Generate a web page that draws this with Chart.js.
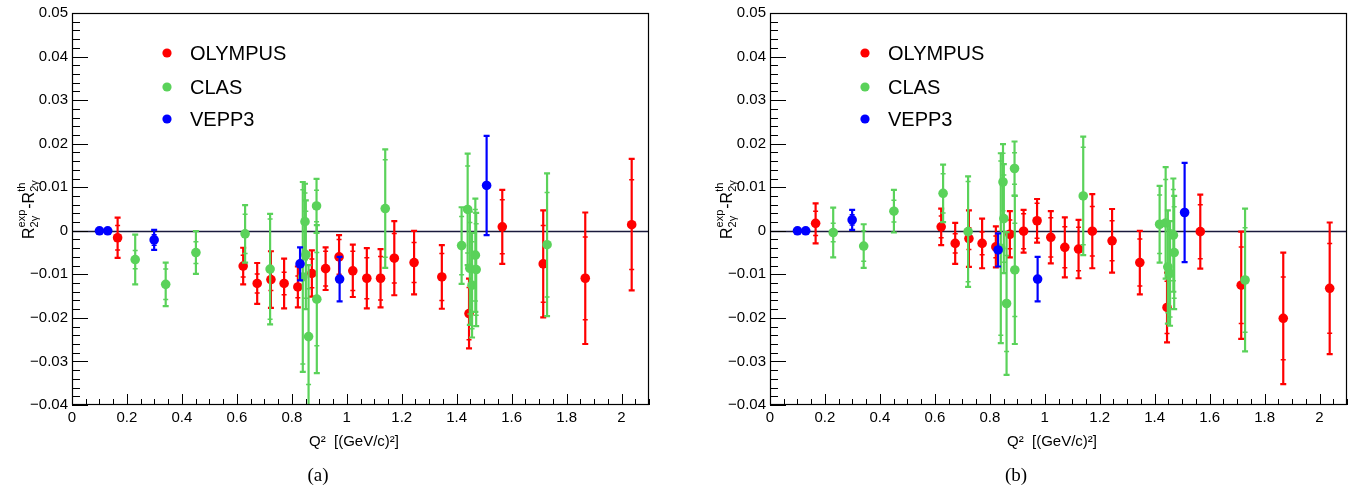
<!DOCTYPE html>
<html><head><meta charset="utf-8">
<script src="https://cdn.jsdelivr.net/npm/chart.js@4.4.1/dist/chart.umd.min.js"></script>
<style>
html,body{margin:0;padding:0;background:#fff;}
#wrap{position:relative;width:1354px;height:487px;overflow:hidden;background:#fff;}
canvas{position:absolute;top:0;}
</style></head><body>
<div id="wrap">
<canvas id="ca" width="656" height="487" style="left:0px;width:656px;height:487px"></canvas>
<canvas id="cb" width="656" height="487" style="left:698px;width:656px;height:487px"></canvas>
</div>
<script>
// ---------------- data ----------------
const seriesNames = ['OLYMPUS', 'CLAS', 'VEPP3'];
const xTickValues = [0, 0.2, 0.4, 0.6, 0.8, 1.0, 1.2, 1.4, 1.6, 1.8, 2.0];
const yTickValues = [0.05, 0.04, 0.03, 0.02, 0.01, 0, -0.01, -0.02, -0.03, -0.04];
const panelCaptions = ['(a)', '(b)'];

const olympusQ2   = [0.166, 0.623, 0.674, 0.724, 0.772, 0.822, 0.873, 0.923, 0.972, 1.022, 1.073, 1.123, 1.173, 1.245, 1.346, 1.445, 1.566, 1.715, 1.868, 2.037];
const olympusA    = [-0.0016, -0.0081, -0.0121, -0.0112, -0.0121, -0.0129, -0.0098, -0.0087, -0.0060, -0.0092, -0.0109, -0.0109, -0.0063, -0.0073, -0.0106, -0.0190, 0.0009, -0.0076, -0.0109, 0.0014];
const olympusB    = [0.0017, 0.0009, -0.0029, -0.0018, -0.0029, -0.0037, -0.0008, -0.0001, 0.0023, -0.0015, -0.0038, -0.0042, -0.0001, -0.0023, -0.0073, -0.0176, -0.0002, -0.0125, -0.0201, -0.0132];
const olympusTot  = [0.0046, 0.0042, 0.0047, 0.0065, 0.0057, 0.0047, 0.0053, 0.0049, 0.0050, 0.0060, 0.0069, 0.0067, 0.0085, 0.0073, 0.0073, 0.0080, 0.0085, 0.0123, 0.0151, 0.0151];
const olympusStat = [0.0028, 0.0025, 0.0022, 0.0025, 0.0026, 0.0025, 0.0033, 0.0040, 0.0040, 0.0045, 0.0047, 0.0050, 0.0057, 0.0046, 0.0054, 0.0060, 0.0062, 0.0088, 0.0095, 0.0103];

const clasQ2   = [0.230, 0.341, 0.451, 0.630, 0.721, 0.840, 0.848, 0.851, 0.861, 0.890, 0.891, 1.140, 1.418, 1.440, 1.448, 1.456, 1.468, 1.471, 1.729];
const clasA    = [-0.0066, -0.0123, -0.0050, -0.0007, -0.0088, -0.0106, 0.0021, -0.0055, -0.0243, 0.0057, -0.0157, 0.0051, -0.0034, 0.0049, -0.0086, -0.0125, -0.0056, -0.0089, -0.0032];
const clasB    = [-0.0004, -0.0035, 0.0045, 0.0086, -0.0002, -0.0040, 0.0112, 0.0028, -0.0167, 0.0143, -0.0090, 0.0080, 0.0015, 0.0018, -0.0083, -0.0098, -0.0010, -0.0050, -0.0113];
const clasTot  = [0.0057, 0.0050, 0.0049, 0.0066, 0.0127, 0.0218, 0.0087, 0.0125, 0.0164, 0.0062, 0.0170, 0.0136, 0.0088, 0.0128, 0.0130, 0.0120, 0.0130, 0.0130, 0.0164];
const clasStat = [0.0021, 0.0035, 0.0025, 0.0045, 0.0115, 0.0200, 0.0066, 0.0100, 0.0110, 0.0036, 0.0107, 0.0112, 0.0067, 0.0100, 0.0105, 0.0100, 0.0105, 0.0105, 0.0120];

const veppQ2   = [0.100, 0.130, 0.299, 0.830, 0.974, 1.509];
const veppA    = [0.0000, 0.0000, -0.0021, -0.0076, -0.0111, 0.0104];
const veppB    = [0.0000, 0.0000, 0.0025, -0.0044, -0.0111, 0.0042];
const veppTot  = [0.0000, 0.0000, 0.0023, 0.0038, 0.0051, 0.0114];
const veppStat = [0.0000, 0.0000, 0.0012, 0.0038, 0.0051, 0.0114];

// ---------------- style ----------------
const RED = '#ff0000', GREEN = '#5ad25a', BLUE = '#0000ff';
const FONT = "'Liberation Sans', Arial, Helvetica, sans-serif";
Chart.defaults.font.family = FONT;
Chart.defaults.color = '#000';

function fmtY(v) {
  if (Math.abs(v) < 1e-9) return '0';
  return (v < 0 ? '\u2212' : '') + Math.abs(v).toFixed(2);
}
function fmtX(v) { return String(Math.round(v * 10) / 10); }

const rootPlugin = {
  id: 'rootStyle',
  beforeDatasetsDraw(chart) {
    const { ctx, chartArea: a, scales: { y } } = chart;
    const y0 = Math.round(y.getPixelForValue(0)) + 0.5;
    ctx.save();
    ctx.strokeStyle = '#1a1a3c';
    ctx.lineWidth = 1.6;
    ctx.beginPath(); ctx.moveTo(a.left, y0); ctx.lineTo(a.right, y0); ctx.stroke();
    ctx.restore();
  },
  beforeDatasetDraw(chart, args) {
    const ds = chart.data.datasets[args.index];
    const { ctx, chartArea: a, scales: { x, y } } = chart;
    ctx.save();
    ctx.beginPath(); ctx.rect(a.left, a.top, a.right - a.left, a.bottom - a.top); ctx.clip();
    ctx.strokeStyle = ds.barColor;
    ds.data.forEach((p, i) => {
      const tot = ds.errTot[i], st = ds.errStat[i];
      if (!tot) return;
      const px = x.getPixelForValue(p.x);
      const yt = y.getPixelForValue(p.y + tot), yb = y.getPixelForValue(p.y - tot);
      ctx.lineWidth = 2.2;
      ctx.beginPath(); ctx.moveTo(px, yt); ctx.lineTo(px, yb); ctx.stroke();
      ctx.beginPath();
      ctx.moveTo(px - 3, yt); ctx.lineTo(px + 3, yt);
      ctx.moveTo(px - 3, yb); ctx.lineTo(px + 3, yb);
      ctx.stroke();
      if (st && st < tot - 1e-6) {
        const ys1 = y.getPixelForValue(p.y + st), ys2 = y.getPixelForValue(p.y - st);
        ctx.lineWidth = 1.5;
        ctx.beginPath();
        ctx.moveTo(px - 2.5, ys1); ctx.lineTo(px + 2.5, ys1);
        ctx.moveTo(px - 2.5, ys2); ctx.lineTo(px + 2.5, ys2);
        ctx.stroke();
      }
    });
    ctx.restore();
  },
  afterDraw(chart) {
    const { ctx, chartArea: a, scales: { x, y } } = chart;
    const opt = chart.options.plugins.rootStyle;
    ctx.save();
    // frame
    ctx.strokeStyle = '#000';
    ctx.lineWidth = 1.2;
    ctx.strokeRect(a.left + 0.5, a.top + 0.5, a.right - a.left - 1, a.bottom - a.top - 1);
    // y ticks (inside)
    ctx.lineWidth = 1;
    ctx.beginPath();
    for (let k = -20; k <= 25; k++) {
      const v = k * 0.002;
      const py = Math.round(y.getPixelForValue(v)) + 0.5;
      const len = (k % 5 === 0) ? 16 : 8;
      ctx.moveTo(a.left, py); ctx.lineTo(a.left + len, py);
    }
    // x ticks (inside)
    for (let k = 0; k <= 42; k++) {
      const v = k * 0.05;
      const px = Math.round(x.getPixelForValue(v)) + 0.5;
      const len = (k % 4 === 0) ? 11 : 6;
      ctx.moveTo(px, a.bottom); ctx.lineTo(px, a.bottom - len);
    }
    ctx.stroke();
    // legend
    const lx = opt.legendX;
    const ly = [53, 87, 119];
    const lc = [RED, GREEN, BLUE];
    ctx.font = '20px ' + FONT;
    ctx.textBaseline = 'middle';
    ctx.textAlign = 'left';
    seriesNames.forEach((n, i) => {
      ctx.fillStyle = lc[i];
      ctx.beginPath(); ctx.arc(lx, ly[i], 4.6, 0, Math.PI * 2); ctx.fill();
      ctx.fillStyle = '#000';
      ctx.fillText(n, lx + 23, ly[i] + 1);
    });
    // x title
    ctx.font = '15px ' + FONT;
    ctx.textBaseline = 'alphabetic';
    ctx.textAlign = 'center';
    ctx.fillText('Q\u00B2  [(GeV/c)\u00B2]', opt.xTitleX, 446);
    // caption
    ctx.font = '19px "Liberation Serif", "DejaVu Serif", serif';
    ctx.fillText(opt.caption, opt.captionX, 481);
    // y title (rotated)
    ctx.translate(34, 239);
    ctx.rotate(-Math.PI / 2);
    ctx.textAlign = 'left';
    ctx.textBaseline = 'alphabetic';
    let cx = 0;
    const big = '16px ' + FONT, small = '11px ' + FONT;
    function piece(t, f, dy) { ctx.font = f; ctx.fillText(t, cx, dy); return ctx.measureText(t).width; }
    cx += piece('R', big, 0);
    let w1 = piece('exp', small, -9);
    let w2 = piece('2\u03B3', small, 4);
    cx += Math.max(w1, w2) + 1;
    cx += piece('-R', big, 0);
    w1 = piece('th', small, -9);
    w2 = piece('2\u03B3', small, 4);
    ctx.restore();
  }
};

function buildPanel(id, yOly, yClas, yVepp, caption) {
  const mk = (xs, ys) => xs.map((q, i) => ({ x: q, y: ys[i] }));
  return new Chart(document.getElementById(id), {
    type: 'scatter',
    data: {
      datasets: [
        { label: 'VEPP3', data: mk(veppQ2, yVepp), errTot: veppTot, errStat: veppStat, barColor: BLUE,
          backgroundColor: BLUE, borderWidth: 0, pointRadius: 4.8 },
        { label: 'CLAS', data: mk(clasQ2, yClas), errTot: clasTot, errStat: clasStat, barColor: GREEN,
          backgroundColor: GREEN, borderWidth: 0, pointRadius: 4.8 },
        { label: 'OLYMPUS', data: mk(olympusQ2, yOly), errTot: olympusTot, errStat: olympusStat, barColor: RED,
          backgroundColor: RED, borderWidth: 0, pointRadius: 4.8 }
      ]
    },
    options: {
      responsive: false, animation: false, devicePixelRatio: 1,
      layout: { padding: { left: 0, right: 7, top: 13, bottom: 0 } },
      plugins: {
        legend: { display: false }, tooltip: { enabled: false },
        rootStyle: { legendX: 167, xTitleX: 354, captionX: 318, caption: caption }
      },
      scales: {
        x: {
          type: 'linear', min: 0, max: 2.1,
          afterBuildTicks: s => { s.ticks = xTickValues.map(v => ({ value: v })); },
          afterFit: s => { s.height = 82; },
          grid: { display: false, drawTicks: false }, border: { display: false },
          ticks: { padding: 4, font: { size: 15 }, color: '#000', maxRotation: 0, autoSkip: false, callback: v => fmtX(v) }
        },
        y: {
          type: 'linear', min: -0.04, max: 0.05,
          afterBuildTicks: s => { s.ticks = yTickValues.map(v => ({ value: v })); },
          afterFit: s => { s.width = 72; },
          grid: { display: false, drawTicks: false }, border: { display: false },
          ticks: { padding: 4, font: { size: 15 }, color: '#000', autoSkip: false, callback: v => fmtY(v) }
        }
      }
    },
    plugins: [rootPlugin]
  });
}

buildPanel('ca', olympusA, clasA, veppA, panelCaptions[0]);
buildPanel('cb', olympusB, clasB, veppB, panelCaptions[1]);
</script>
</body></html>
